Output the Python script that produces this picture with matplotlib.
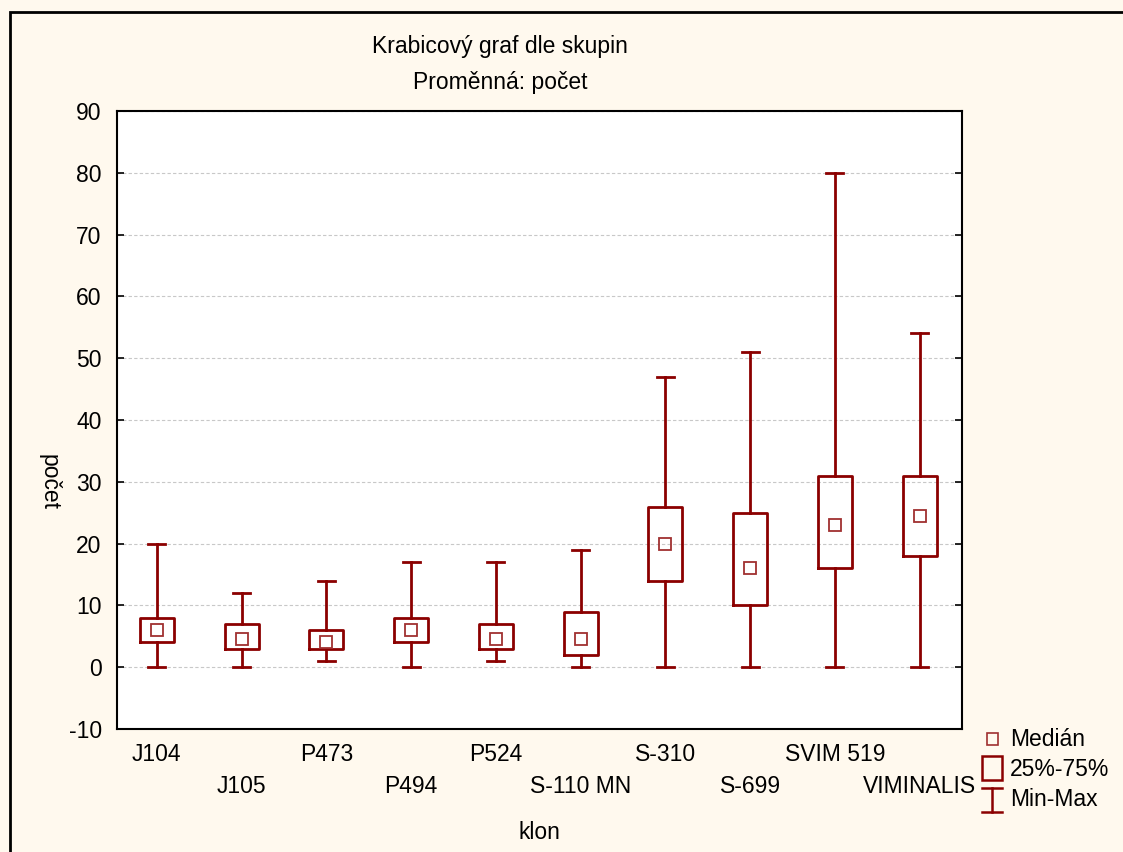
import matplotlib.pyplot as plt
from matplotlib.lines import Line2D
from matplotlib.patches import Rectangle

plt.rcParams['font.family'] = ['Liberation Sans', 'DejaVu Sans']
plt.rcParams['axes.unicode_minus'] = False

# Box plot stats
clones = ['J104', 'J105', 'P473', 'P494', 'P524', 'S-110 MN',
          'S-310', 'S-699', 'SVIM 519', 'VIMINALIS']
mins = [0, 0, 1, 0, 1, 0, 0, 0, 0, 0]
maxs = [20, 12, 14, 17, 17, 19, 47, 51, 80, 54]
q1s = [4, 3, 3, 4, 3, 2, 14, 10, 16, 18]
q3s = [8, 7, 6, 8, 7, 9, 26, 25, 31, 31]
medians = [6, 4.5, 4, 6, 4.5, 4.5, 20, 16, 23, 24.5]

red = '#8b0000'
bg = '#fff9ee'
fs = 16.5

fig = plt.figure(figsize=(11.23, 8.52), dpi=100, facecolor=bg)
ax = fig.add_axes([0.1042, 0.1444, 0.7524, 0.7253])
ax.set_facecolor('white')

stats = []
for i in range(len(clones)):
    stats.append({'med': medians[i], 'q1': q1s[i], 'q3': q3s[i],
                  'whislo': mins[i], 'whishi': maxs[i], 'fliers': []})

pos = list(range(len(clones)))
ax.bxp(stats, positions=pos, widths=0.4, capwidths=0.2, showfliers=False,
       boxprops=dict(color=red, linewidth=2),
       whiskerprops=dict(color=red, linewidth=2),
       capprops=dict(color=red, linewidth=2),
       medianprops=dict(linewidth=0))
ax.plot(pos, medians, 's', ms=8.7, mfc='none', mec='#a03030', mew=1.3,
        linestyle='none', zorder=5)

ax.set_xlim(-0.47, 9.5)
ax.set_ylim(-10, 90)
ax.set_yticks(range(-10, 91, 10))
ax.yaxis.grid(True, color='#c8c8c8', linestyle=(0, (3, 2)), linewidth=0.8)
ax.set_axisbelow(True)
ax.tick_params(axis='y', direction='in', right=True, length=5, width=1.2,
               labelsize=fs, pad=11)

ax.set_xticks(pos)
ax.set_xticklabels(clones, fontsize=fs)
ax.tick_params(axis='x', length=0)
for i, t in enumerate(ax.xaxis.get_major_ticks()):
    t.set_pad(10 if i % 2 == 0 else 33)

for s in ax.spines.values():
    s.set_linewidth(1.5)

ax.set_xlabel('klon', fontsize=fs, labelpad=17)
ax.set_ylabel('počet', fontsize=fs, rotation=270, va='center')
ax.yaxis.set_label_coords(-0.080, 0.40)

fig.text(500 / 1123, 1 - 46 / 852, 'Krabicový graf dle skupin',
         ha='center', va='center', fontsize=fs)
fig.text(500 / 1123, 1 - 83 / 852, 'Proměnná: počet',
         ha='center', va='center', fontsize=fs)

# outer frame (left and top edges visible)
fig.add_artist(Rectangle((10 / 1123, -0.1), 1.2, 1.1 - 12 / 852,
                         transform=fig.transFigure, fill=False,
                         edgecolor='black', linewidth=2))

# legend drawn by hand
W, H = 1123, 852


def fx(x):
    return x / W


def fy(y):
    return 1 - y / H


fig.add_artist(Rectangle((fx(987), fy(745)), fx(11), 12 / H,
                         transform=fig.transFigure, fill=False,
                         edgecolor='#a03030', linewidth=1.2))
fig.add_artist(Rectangle((fx(982), fy(780)), fx(20), 24 / H,
                         transform=fig.transFigure, fill=False,
                         edgecolor=red, linewidth=1.8))
fig.add_artist(Line2D([fx(992), fx(992)], [fy(788), fy(812)],
                      transform=fig.transFigure, color=red, linewidth=1.8))
fig.add_artist(Line2D([fx(982), fx(1002)], [fy(788), fy(788)],
                      transform=fig.transFigure, color=red, linewidth=1.8))
fig.add_artist(Line2D([fx(982), fx(1002)], [fy(812), fy(812)],
                      transform=fig.transFigure, color=red, linewidth=1.8))
for label, y in [('Medián', 740), ('25%-75%', 770), ('Min-Max', 800)]:
    fig.text(fx(1010), fy(y), label, ha='left', va='center', fontsize=fs)

fig.savefig('out.png', dpi=100, facecolor=bg)
